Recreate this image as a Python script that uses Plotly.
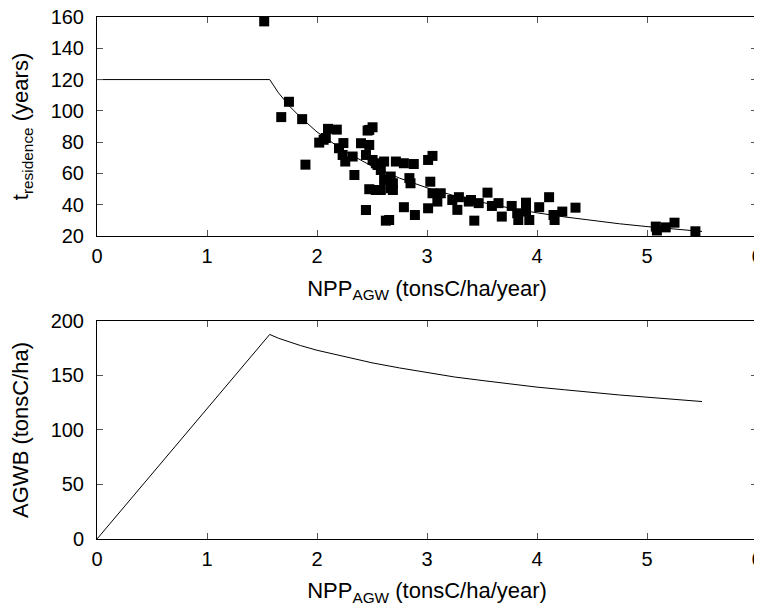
import plotly.graph_objects as go
from plotly.subplots import make_subplots

# Observed data (top panel)
npp_obs = [1.52, 1.745, 1.675, 1.865, 1.895, 2.02, 2.10, 2.08, 2.18, 2.24, 2.20, 2.233, 2.257,
           2.324, 2.34, 2.445, 2.475, 2.46, 2.505, 2.40, 2.475, 2.445, 2.505, 2.55, 2.61,
           2.717, 2.58, 2.61, 2.67, 2.58, 2.475, 2.67, 2.445, 2.626, 2.06,
           2.79, 2.88, 3.01, 3.05, 2.69, 2.69, 2.84, 2.85, 3.03, 2.79, 2.89, 3.01, 3.05,
           3.125, 3.094, 3.23, 3.29, 3.276, 3.38, 3.43, 2.656,
           3.40, 3.47, 3.55, 3.59, 3.65, 3.68, 3.77, 3.82, 3.90, 3.83, 3.93, 3.90, 4.02,
           4.11, 4.15, 4.23, 4.16, 4.35, 5.08, 5.09, 5.17, 5.25, 5.44, 2.535, 2.535]
tres_obs = [157.2, 105.8, 96.0, 94.7, 65.6, 79.7, 88.5, 82.6, 88.0, 79.4, 76.1, 71.8, 67.6,
            70.8, 59.0, 36.6, 87.8, 87.4, 89.5, 79.3, 78.2, 71.8, 68.6, 65.4, 67.6,
            67.6, 62.2, 55.8, 50.5, 49.4, 49.9, 58.0, 36.6, 29.8, 81.5,
            66.5, 66.0, 68.6, 71.2, 53.7, 49.4, 57.0, 53.7, 54.7, 38.4, 33.4, 37.7, 47.3,
            47.3, 42.0, 43.0, 44.8, 36.7, 42.0, 29.8, 30.2,
            43.0, 41.0, 47.7, 39.2, 41.0, 32.4, 39.2, 34.5, 41.3, 30.2, 30.2, 35.6, 38.4,
            44.8, 33.4, 35.6, 30.2, 38.1, 26.0, 23.5, 25.5, 28.5, 23.0, 66.5, 49.4]

# Model curve
npp_model = [0, 1.57, 1.65, 1.75, 1.85, 2.0, 2.25, 2.5, 2.75, 3.0, 3.25, 3.5, 3.75, 4.0,
             4.25, 4.5, 4.75, 5.0, 5.25, 5.5]
tres_model = [120, 120, 111.5, 103, 95.9, 86.5, 74.2, 64.6, 57.0, 50.8, 45.7, 41.5, 37.9, 34.8,
              32.2, 29.8, 27.8, 26.0, 24.4, 22.9]
agwb_model = [0, 187.5, 184.0, 180.4, 177.3, 173, 167, 161.5, 156.8, 152.4, 148.5, 145.3, 142, 139.2,
              136.8, 134.1, 132, 130, 128.1, 126]

fig = make_subplots(rows=2, cols=1, vertical_spacing=0.16)

fig.add_trace(go.Scatter(x=npp_obs, y=tres_obs, mode="markers",
                         marker=dict(symbol="square", size=10, color="black", line=dict(width=0)),
                         showlegend=False), row=1, col=1)
fig.add_trace(go.Scatter(x=npp_model, y=tres_model, mode="lines",
                         line=dict(color="black", width=1), showlegend=False), row=1, col=1)
fig.add_trace(go.Scatter(x=npp_model, y=agwb_model, mode="lines",
                         line=dict(color="black", width=1), showlegend=False), row=2, col=1)

tick_font = dict(family="Liberation Sans, Arial, sans-serif", size=20, color="black")
title_font = dict(family="Liberation Sans, Arial, sans-serif", size=22, color="black")
axis_common = dict(showline=True, linecolor="black", linewidth=1, mirror="allticks",
                   ticks="inside", ticklen=6, tickcolor="#555", showgrid=False, zeroline=False,
                   tickfont=tick_font, automargin=False, ticklabeloverflow="allow")

fig.update_xaxes(range=[0, 6], dtick=1, ticklabelstandoff=2, **axis_common)
fig.update_xaxes(title=dict(text="NPP<sub>AGW</sub> (tonsC/ha/year)", font=title_font, standoff=14), row=1, col=1)
fig.update_xaxes(title=dict(text="NPP<sub>AGW</sub> (tonsC/ha/year)", font=title_font, standoff=13), row=2, col=1)
fig.update_yaxes(range=[20, 160], dtick=20, ticklabelstandoff=8,
                 title=dict(text="t<sub>residence</sub> (years)", font=title_font, standoff=18),
                 row=1, col=1, **axis_common)
fig.update_yaxes(range=[0, 200], dtick=50, ticklabelstandoff=8,
                 title=dict(text="AGWB (tonsC/ha)", font=title_font, standoff=18),
                 row=2, col=1, **axis_common)

# the page adds an 8px body margin; the figure is sized so it fills the 762x606 window
fig.update_layout(
    width=754, height=598,
    margin=dict(l=89, r=5, t=9, b=67),
    paper_bgcolor="white", plot_bgcolor="white",
    font=tick_font,
    yaxis=dict(domain=[0.5805, 1.0]),
    yaxis2=dict(domain=[0.0, 0.418]),
)

fig.write_html("out.html")
